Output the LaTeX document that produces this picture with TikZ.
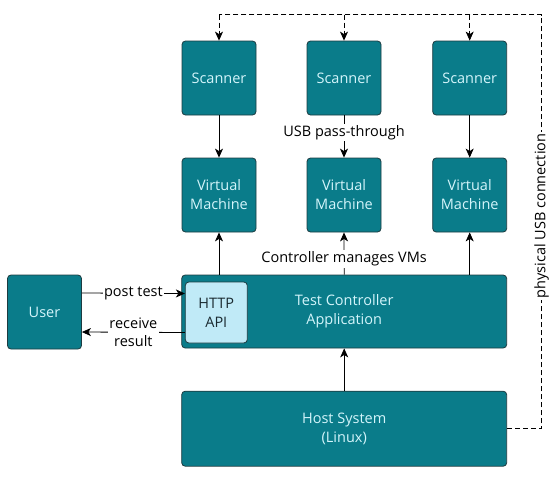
\documentclass[tikz,border=0pt]{standalone}
\usepackage{fontspec}
\setmainfont{Open Sans}
\usetikzlibrary{arrows.meta}
\definecolor{tealfill}{HTML}{0A7C8A}
\definecolor{boxtext}{HTML}{D4F5FB}
\definecolor{boxedge}{HTML}{1D3B40}
\definecolor{apifill}{HTML}{C0EAF7}
\definecolor{apitext}{HTML}{1A2A30}
\begin{document}
\begin{tikzpicture}[x=1pt,y=-1pt,
  box/.style={draw=boxedge, fill=tealfill, rounded corners=3.5pt, text=boxtext,
    align=center, font=\fontsize{14.5}{19}\selectfont, inner sep=0pt, line width=0.8pt},
  apibox/.style={box, fill=apifill, text=apitext},
  arr/.style={-{Stealth[length=9pt,width=8pt,inset=2.5pt]}, line width=0.8pt},
  lbl/.style={fill=white, font=\fontsize{14.5}{18}\selectfont, inner sep=1.5pt, text=black, align=center},
  usb/.style={dashed, dash pattern=on 5pt off 3pt, line width=0.8pt}
]
\useasboundingbox (0,0) rectangle (559,483);

% scanners
\node[box, minimum width=74pt, minimum height=74pt] (s1) at (219,78) {Scanner};
\node[box, minimum width=74pt, minimum height=74pt] (s2) at (344,78) {Scanner};
\node[box, minimum width=74pt, minimum height=74pt] (s3) at (469.7,78) {Scanner};

% VMs
\node[box, minimum width=74pt, minimum height=74pt] (v1) at (219,195) {Virtual\\Machine};
\node[box, minimum width=74pt, minimum height=74pt] (v2) at (344,195) {Virtual\\Machine};
\node[box, minimum width=74pt, minimum height=74pt] (v3) at (469.7,195) {Virtual\\Machine};

% controller
\node[box, minimum width=325pt, minimum height=73pt] (ctrl) at (344.2,311.5) {Test Controller\\Application};
\node[apibox, minimum width=62pt, minimum height=61pt] (api) at (216.3,312.5) {HTTP\\API};

% user
\node[box, minimum width=74pt, minimum height=74pt] (user) at (44.5,312) {User};

% host
\node[box, minimum width=325pt, minimum height=75pt] (host) at (344.2,428.7) {Host System\\(Linux)};

% scanner -> VM
\draw[arr] (s1.south) -- (v1.north);
\draw[arr] (s2.south) -- node[lbl, pos=0.4] (lusb) {USB pass-through} (v2.north);
\draw[arr] (s3.south) -- (v3.north);

% controller -> VMs
\draw[arr] (v1 |- ctrl.north) -- (v1.south);
\draw[arr] (ctrl.north) -- node[lbl, pos=0.37] (lmgr) {Controller manages VMs} (v2.south);
\draw[arr] (v3 |- ctrl.north) -- (v3.south);

% host -> controller
\draw[arr] (host.north) -- (ctrl.south);

% user <-> api
\draw[arr] ([yshift=19pt]user.east) -- node[lbl] (lpost) {post test} ([yshift=19pt]api.west);
\draw[arr] ([yshift=-20pt]api.west) -- node[lbl] (lrecv) {receive\\result} ([yshift=-20pt]user.east);

% physical USB
\coordinate (cr) at (541.7,14.7);
\coordinate (c1) at (219,14.7);
\coordinate (c2) at (344,14.7);
\coordinate (c3) at (469.7,14.7);
\draw[usb] (host.east) -| (cr) -- (c1);
\draw[usb, arr] (c1) -- (s1.north);
\draw[usb, arr] (c2) -- (s2.north);
\draw[usb, arr] (c3) -- (s3.north);
\node[lbl, rotate=90] (lphys) at (541.7,216) {physical USB connection};
\end{tikzpicture}
\end{document}
